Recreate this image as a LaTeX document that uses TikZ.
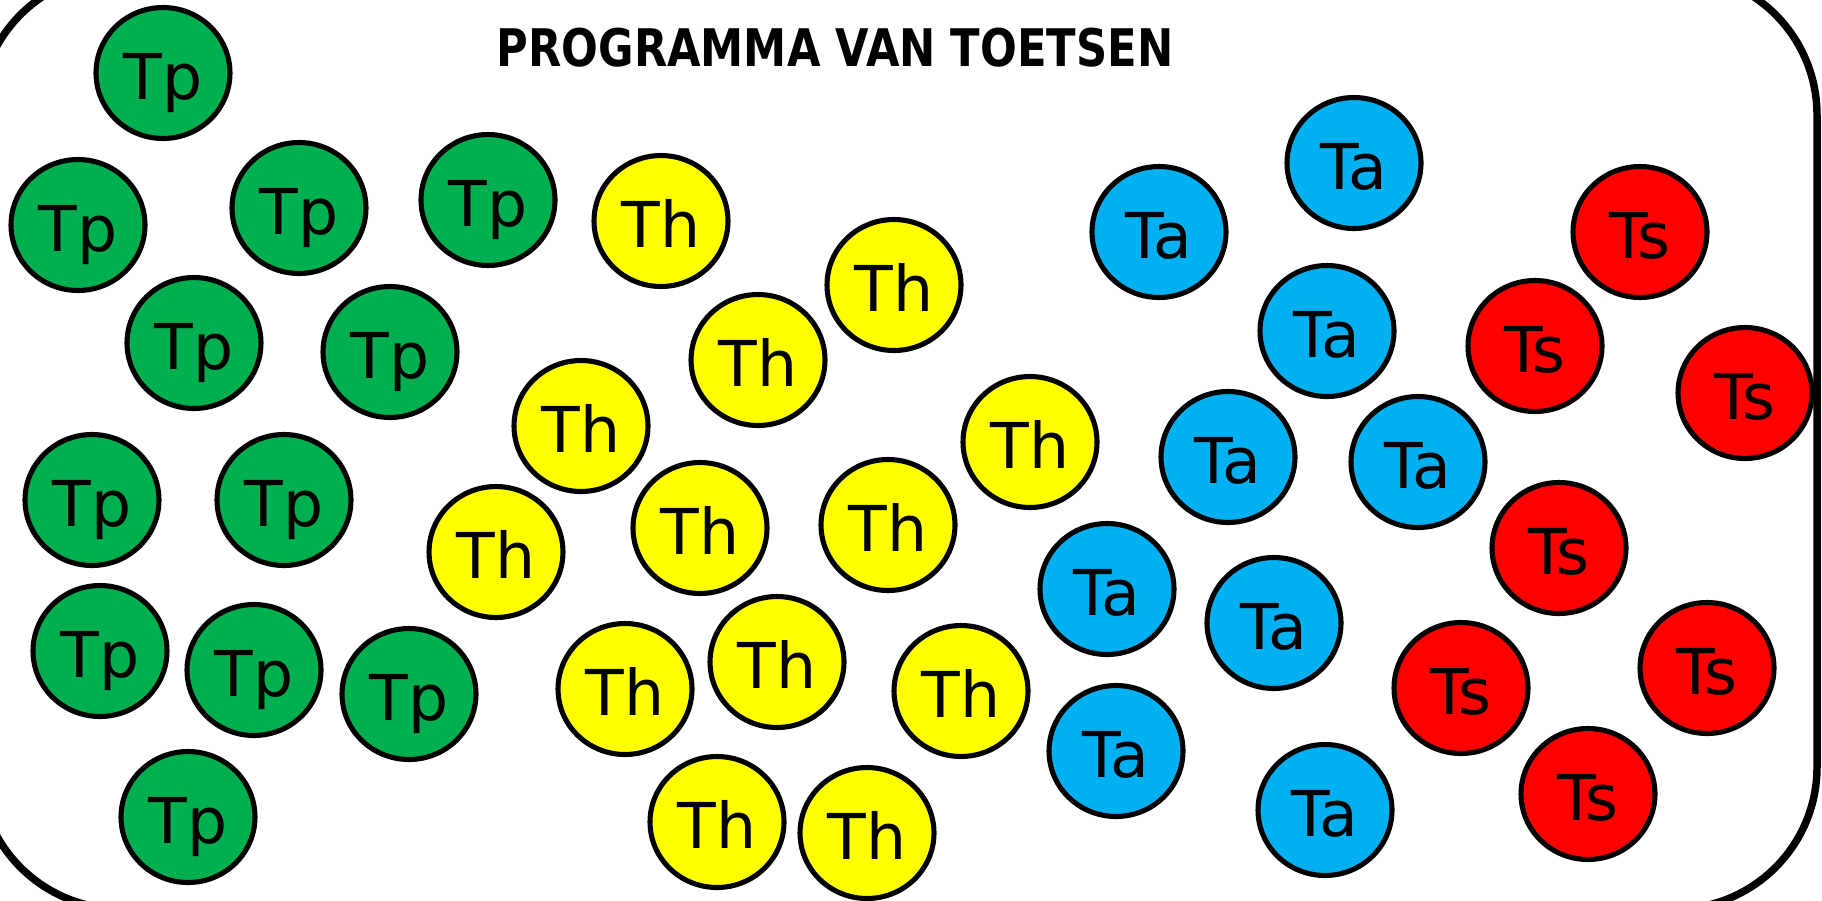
\documentclass[tikz,border=0pt]{standalone}
\usepackage{fontspec}
\setmainfont{DejaVu Sans}
\usepackage{graphicx}
\usetikzlibrary{shapes.geometric}

\definecolor{tpgroen}{HTML}{00B050}
\definecolor{thgeel}{HTML}{FFFF00}
\definecolor{tablauw}{HTML}{00B0F0}
\definecolor{tsrood}{HTML}{FF0000}

\begin{document}
\begin{tikzpicture}[x=0.02cm, y=-0.02cm,
	bol/.style={ellipse, draw=black, line width=2.9pt, minimum width=2.68cm, minimum height=2.62cm, inner sep=0pt, font=\fontsize{36}{36}\selectfont, text height=29.7pt, text depth=0pt},
	tpbol/.style={bol, fill=tpgroen},
	thbol/.style={bol, fill=thgeel},
	tabol/.style={bol, fill=tablauw},
	tsbol/.style={bol, fill=tsrood}]
	\useasboundingbox (0,0) rectangle (1822,900);
	%\draw[very thin,color=gray] (0,0) grid[step=100] (1822,900);
	\draw[line width=4.25pt, rounded corners=2.84cm] (-21,-27) rectangle (1817,909);
	\node (titel) at (835,48) {\scalebox{0.835}[1]{\fontsize{29.5}{30}\selectfont\bfseries PROGRAMMA VAN TOETSEN}};
	\node[tpbol] (tp1) at (163,73) {Tp};
	\node[tpbol] (tp2) at (78,225) {Tp};
	\node[tpbol] (tp3) at (299,208) {Tp};
	\node[tpbol] (tp4) at (488,200) {Tp};
	\node[tpbol] (tp5) at (194,343) {Tp};
	\node[tpbol] (tp6) at (390,352) {Tp};
	\node[tpbol] (tp7) at (92,500) {Tp};
	\node[tpbol] (tp8) at (284,500) {Tp};
	\node[tpbol] (tp9) at (100,651) {Tp};
	\node[tpbol] (tp10) at (254,670) {Tp};
	\node[tpbol] (tp11) at (409,694) {Tp};
	\node[tpbol] (tp12) at (188,817) {Tp};
	\node[thbol] (th1) at (661,221) {Th};
	\node[thbol] (th2) at (894,285) {Th};
	\node[thbol] (th3) at (758,360) {Th};
	\node[thbol] (th4) at (581,426) {Th};
	\node[thbol] (th5) at (1030,442) {Th};
	\node[thbol] (th6) at (496,552) {Th};
	\node[thbol] (th7) at (700,528) {Th};
	\node[thbol] (th8) at (888,525) {Th};
	\node[thbol] (th9) at (625,689) {Th};
	\node[thbol] (th10) at (777,662) {Th};
	\node[thbol] (th11) at (961,691) {Th};
	\node[thbol] (th12) at (717,822) {Th};
	\node[thbol] (th13) at (867,833) {Th};
	\node[tabol] (ta1) at (1354,163) {Ta};
	\node[tabol] (ta2) at (1159,232) {Ta};
	\node[tabol] (ta3) at (1327,331) {Ta};
	\node[tabol] (ta4) at (1228,457) {Ta};
	\node[tabol] (ta5) at (1418,462) {Ta};
	\node[tabol] (ta6) at (1107,589) {Ta};
	\node[tabol] (ta7) at (1274,623) {Ta};
	\node[tabol] (ta8) at (1116,751) {Ta};
	\node[tabol] (ta9) at (1325,810) {Ta};
	\node[tsbol] (ts1) at (1640,232) {Ts};
	\node[tsbol] (ts2) at (1535,346) {Ts};
	\node[tsbol] (ts3) at (1745,393) {Ts};
	\node[tsbol] (ts4) at (1559,548) {Ts};
	\node[tsbol] (ts5) at (1707,668) {Ts};
	\node[tsbol] (ts6) at (1461,688) {Ts};
	\node[tsbol] (ts7) at (1588,794) {Ts};
\end{tikzpicture}
\end{document}
